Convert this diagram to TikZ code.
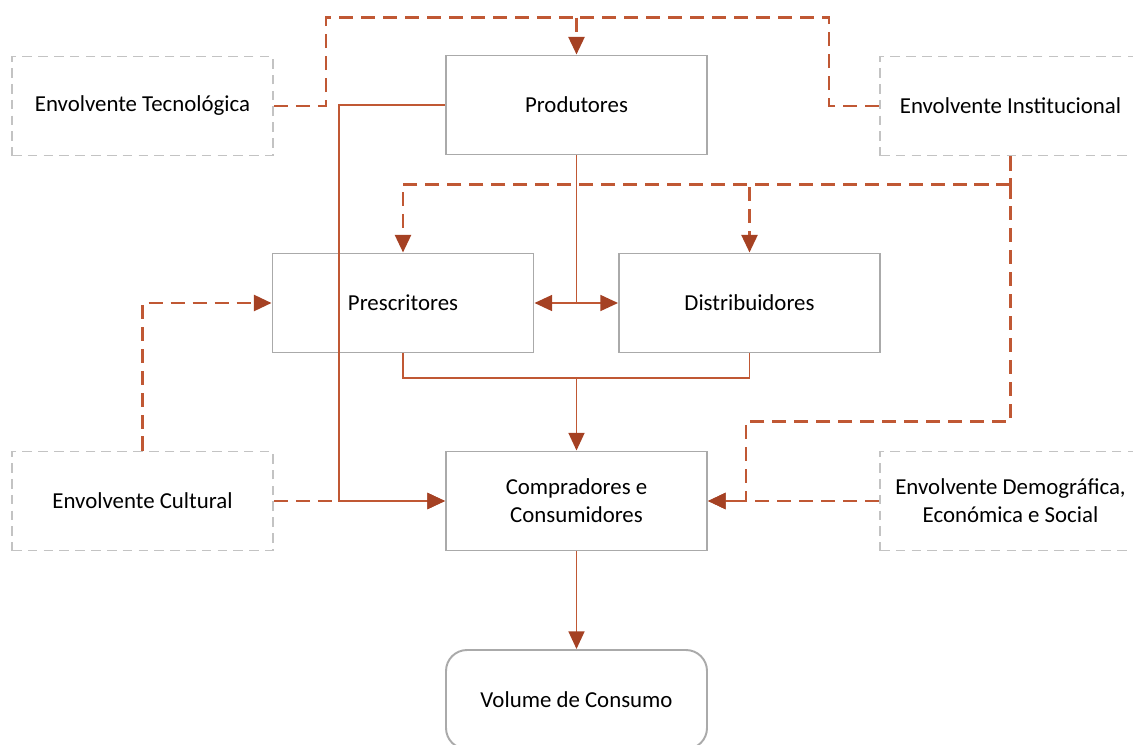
\documentclass[tikz,border=0pt]{standalone}
\usepackage{fontspec}
\setmainfont{Carlito}
\usetikzlibrary{calc}
\usetikzlibrary{arrows.meta}
\definecolor{rust}{RGB}{192,88,52}
\definecolor{rustdark}{RGB}{165,65,35}
\definecolor{boxgray}{RGB}{170,170,170}
\definecolor{envgray}{RGB}{195,195,195}
\tikzset{%
  mybox/.style={rectangle, draw=boxgray, line width=1.1pt, minimum width=5.22cm, minimum height=1.98cm, align=center, font=\fontsize{13}{16}\selectfont},
  myenv/.style={mybox, draw=envgray, dash pattern=on 5.5pt off 3.5pt},
  myend/.style={mybox, rounded corners=0.42cm},
  solidline/.style={draw=rust, line width=1.1pt},
  dashline/.style={draw=rust, line width=1.6pt, dash pattern=on 8pt off 4.5pt},
  >={Triangle[length=10pt, width=9pt, color=rustdark]}
}

\begin{document}
\begin{tikzpicture}
  \clip (0,0) rectangle (22.66,14.88);
  % boxes
  \node[myenv] (tec) at (2.85,12.76) {Envolvente Tecnológica};
  \node[mybox] (prod) at (11.53,12.78) {Produtores};
  \node[myenv] (inst) at (20.21,12.76) {Envolvente Institucional};
  \node[mybox] (pres) at (8.06,8.82) {Prescritores};
  \node[mybox] (dist) at (14.99,8.82) {Distribuidores};
  \node[myenv] (cult) at (2.85,4.86) {Envolvente Cultural};
  \node[mybox] (comp) at (11.53,4.86) {Compradores e\\Consumidores};
  \node[myenv] (demo) at (20.21,4.86) {Envolvente Demográfica,\\Económica e Social};
  \node[myend] (vol) at (11.53,0.89) {Volume de Consumo};
  % helper points
  \coordinate (ttop) at ($(prod.north)+(0,0.74)$);
  \coordinate (ibus) at ($(inst.south)+(0,-0.56)$);
  \coordinate (ilow) at ($(ibus)+(0,-4.74)$);
  \coordinate (mid) at (prod.south |- pres.east);
  \coordinate (jn) at ($(comp.north)+(0,1.46)$);
  % solid links
  \draw[solidline, ->] (prod.west) -- ++(-2.12,0) |- (comp.west);
  \draw[solidline] (prod.south) -- (mid);
  \draw[solidline, ->] (mid) -- (pres.east);
  \draw[solidline, ->] (mid) -- (dist.west);
  \draw[solidline] (pres.south) |- (jn) -| (dist.south);
  \draw[solidline, ->] (jn) -- (comp.north);
  \draw[solidline, ->] (comp.south) -- (vol.north);
  % dashed links
  \draw[dashline] (tec.east) -- ++(1.04,0) |- (ttop);
  \draw[dashline] (inst.west) -- ++(-1.0,0) |- (ttop);
  \draw[dashline, ->] (ttop) -- (prod.north);
  \draw[dashline] (inst.south) -- (ibus);
  \draw[dashline, ->] (ibus) -| (pres.north);
  \draw[dashline, ->] (ibus) -| (dist.north);
  \draw[dashline, ->] (ibus) -- (ilow) -| ($(comp.east)+(0.76,0)$) -- (comp.east);
  \draw[dashline, ->] (demo.west) -- (comp.east);
  \draw[dashline, ->] (cult.north) |- (pres.west);
  \draw[dashline, ->] (cult.east) -- (comp.west);
\end{tikzpicture}
\end{document}
